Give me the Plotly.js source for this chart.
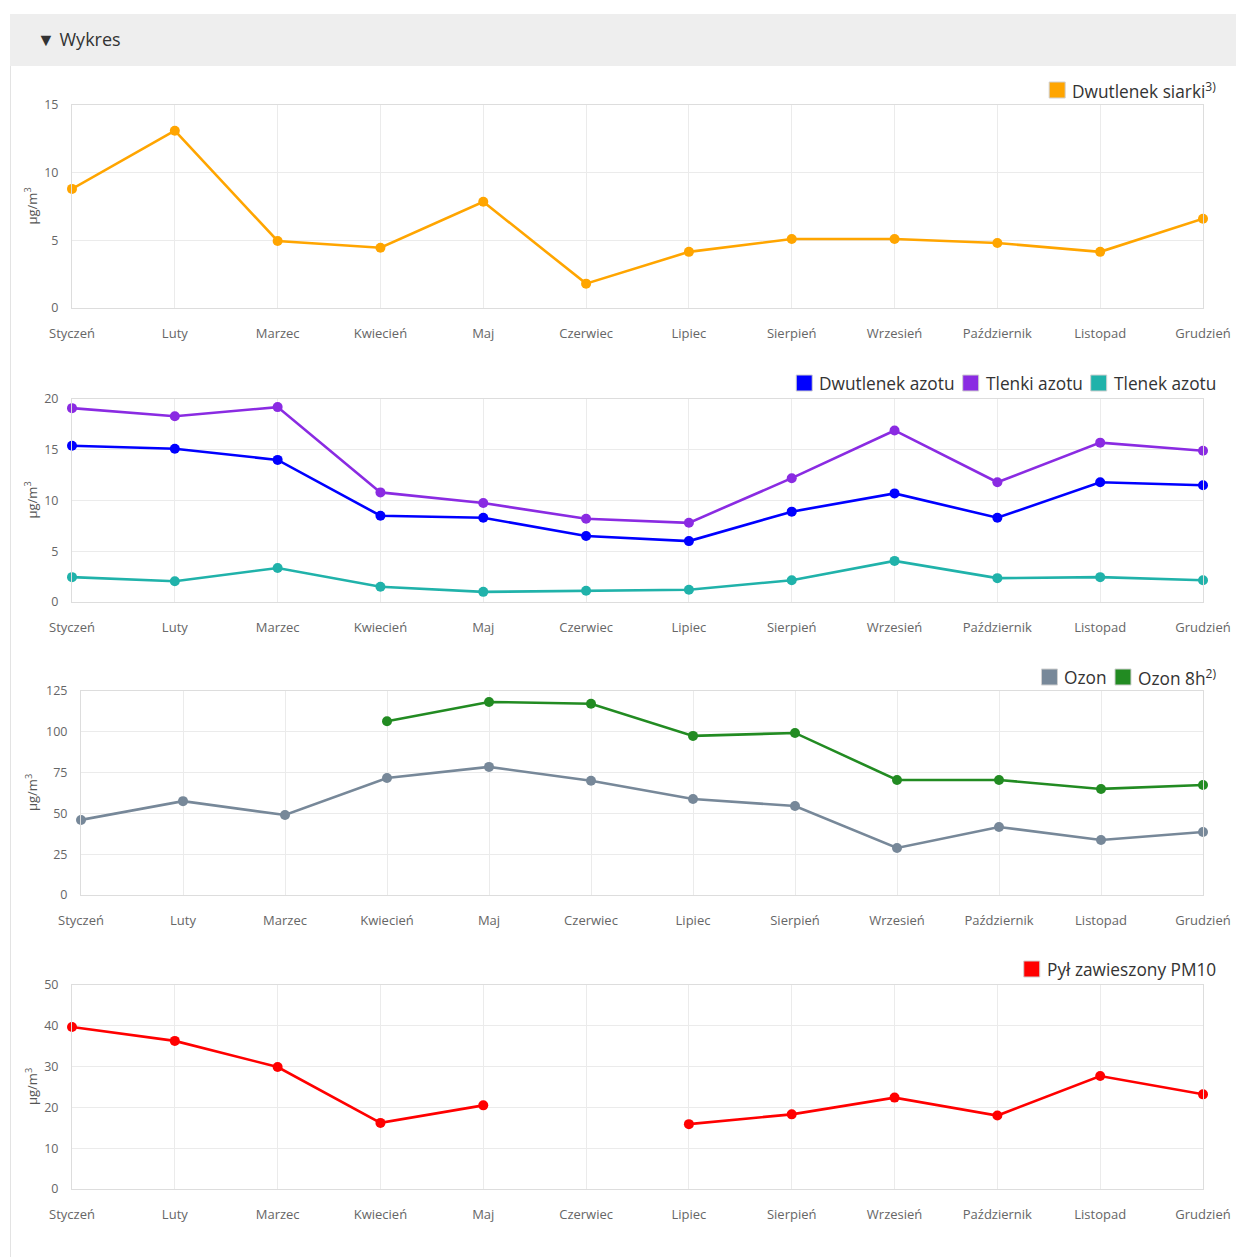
<!DOCTYPE html>
<html><head><meta charset="utf-8">
<script src="https://cdn.plot.ly/plotly-3.0.1.min.js"></script>
<style>
html,body{margin:0;padding:0;background:#fff;width:1236px;height:1257px;overflow:hidden;font-family:"Open Sans",sans-serif;}
#panel{position:absolute;left:10px;top:14px;width:1226px;height:1243px;border-left:1px solid #e3e3e3;}
#hdr{position:absolute;left:10px;top:14px;width:1226px;height:52px;background:#eeeeee;}
#hdr span{position:absolute;left:27px;top:13px;font-size:18px;color:#333;}
#chart{position:absolute;left:0;top:0;width:1236px;height:1257px;}
</style></head><body>
<div id="panel"></div>
<div id="hdr"><span>▼ Wykres</span></div>
<div id="chart"></div>
<script>
const months = ["Styczeń","Luty","Marzec","Kwiecień","Maj","Czerwiec","Lipiec","Sierpień","Wrzesień","Październik","Listopad","Grudzień"];
const so2 = [8.8,13.1,4.95,4.45,7.85,1.8,4.15,5.1,5.1,4.8,4.15,6.6];
const no2 = [15.4,15.1,14.0,8.5,8.3,6.5,6.0,8.9,10.7,8.3,11.8,11.5];
const nox = [19.1,18.3,19.2,10.8,9.75,8.2,7.8,12.2,16.9,11.8,15.7,14.9];
const no = [2.45,2.05,3.35,1.5,1.0,1.1,1.2,2.15,4.05,2.35,2.45,2.15];
const ozon = [46,57.5,49,71.7,78.5,70,58.8,54.5,28.8,41.7,33.7,38.6];
const ozon8h = [null,null,null,106.5,118.3,117.2,97.5,99.3,70.5,70.5,65,67.4];
const pm10 = [39.7,36.3,29.9,16.2,20.5,null,15.9,18.3,22.4,18.0,27.7,23.2];

const W = 1236, H = 1257;
const fx = p => p / W, fy = p => (H - p) / H;
// panel pixel boxes [left, right, top, bottom]
const boxes = [[72,1203,105,308],[72,1203,399,602],[81,1203,691,895],[72,1203,985,1189]];
const yr = [[0,15],[0,20],[0,125],[0,50]];
const ydt = [5,5,25,10];
const legY = [90,383,677,969];

const C = {so2:"#FFA500", no2:"#0000FF", nox:"#8A2BE2", no:"#20B2AA", oz:"#778899", oz8:"#228B22", pm:"#FF0000"};

const traces = [];
const legends = [[],[],[],[]];
function series(name, sup, y, color, k){
  const ax = k === 0 ? "" : String(k+1);
  traces.push({x:months, y:y, type:"scatter", mode:"lines+markers", name:name,
    xaxis:"x"+ax, yaxis:"y"+ax, line:{color:color,width:2.6}, marker:{color:color,size:10},
    showlegend:false, hoverinfo:"skip", connectgaps:false, cliponaxis:false});
  legends[k].push({name:name, sup:sup, color:color});
}
series("Dwutlenek siarki", "3)", so2, C.so2, 0);
series("Dwutlenek azotu", "", no2, C.no2, 1);
series("Tlenki azotu", "", nox, C.nox, 1);
series("Tlenek azotu", "", no, C.no, 1);
series("Ozon", "", ozon, C.oz, 2);
series("Ozon 8h", "2)", ozon8h, C.oz8, 2);
series("Pył zawieszony PM10", "", pm10, C.pm, 3);

function draw(){
  const LF = 17.3;
  const cv = document.createElement("canvas").getContext("2d");
  const tw = (t, s) => { cv.font = s + "px 'Open Sans'"; return cv.measureText(t).width; };
  const layout = {width:W, height:H, margin:{l:0,r:0,t:0,b:0},
    paper_bgcolor:"rgba(0,0,0,0)", plot_bgcolor:"#fff",
    font:{family:"Open Sans, sans-serif", color:"#666", size:12},
    annotations:[], shapes:[], showlegend:false};
  boxes.forEach((b,k)=>{
    const s = k===0 ? "" : String(k+1);
    layout["xaxis"+s] = {domain:[fx(b[0]),fx(b[1])], anchor:"y"+s, type:"category",
      range:[0,11], showgrid:true, gridcolor:"#ebebeb", showline:true, mirror:true, linecolor:"#dddddd",
      ticks:"", ticklabelstandoff:13, tickfont:{size:13,color:"#666"}, fixedrange:true, zeroline:false};
    layout["yaxis"+s] = {domain:[fy(b[3]),fy(b[2])], anchor:"x"+s, range:yr[k], dtick:ydt[k], tick0:0,
      showgrid:true, gridcolor:"#ebebeb", showline:true, mirror:true, linecolor:"#dddddd",
      ticks:"", ticklabelstandoff:10, tickfont:{size:12.5,color:"#666"}, zeroline:false, fixedrange:true};
    layout.annotations.push({text:"µg/m<sup>3</sup>", xref:"paper", yref:"paper", x:fx(31), y:fy((b[2]+b[3])/2),
      showarrow:false, textangle:-90, font:{size:13,color:"#555"}, xanchor:"center", yanchor:"middle"});
    // legend, laid out right to left
    let right = 1215;
    const items = legends[k].slice().reverse();
    items.forEach(it=>{
      const w = tw(it.name,LF) + (it.sup ? tw(it.sup,LF*0.7) : 0);
      const tl = right - w;
      layout.annotations.push({text: it.name + (it.sup ? "<sup>"+it.sup+"</sup>" : ""), xref:"paper", yref:"paper",
        x:fx(tl), y:fy(legY[k]), xanchor:"left", yanchor:"middle", showarrow:false,
        font:{size:LF,color:"#333"}, borderpad:0});
      const sqR = tl - 6, sqL = sqR - 16;
      layout.shapes.push({type:"rect", xref:"paper", yref:"paper", x0:fx(sqL), x1:fx(sqR),
        y0:fy(legY[k]+8), y1:fy(legY[k]-8), fillcolor:it.color, line:{color:"#d0d0d0",width:1}});
      right = sqL - 9;
    });
  });
  Plotly.newPlot("chart", traces, layout, {staticPlot:true, displayModeBar:false});
}
if (document.fonts && document.fonts.ready) document.fonts.ready.then(draw); else draw();
</script></body></html>
